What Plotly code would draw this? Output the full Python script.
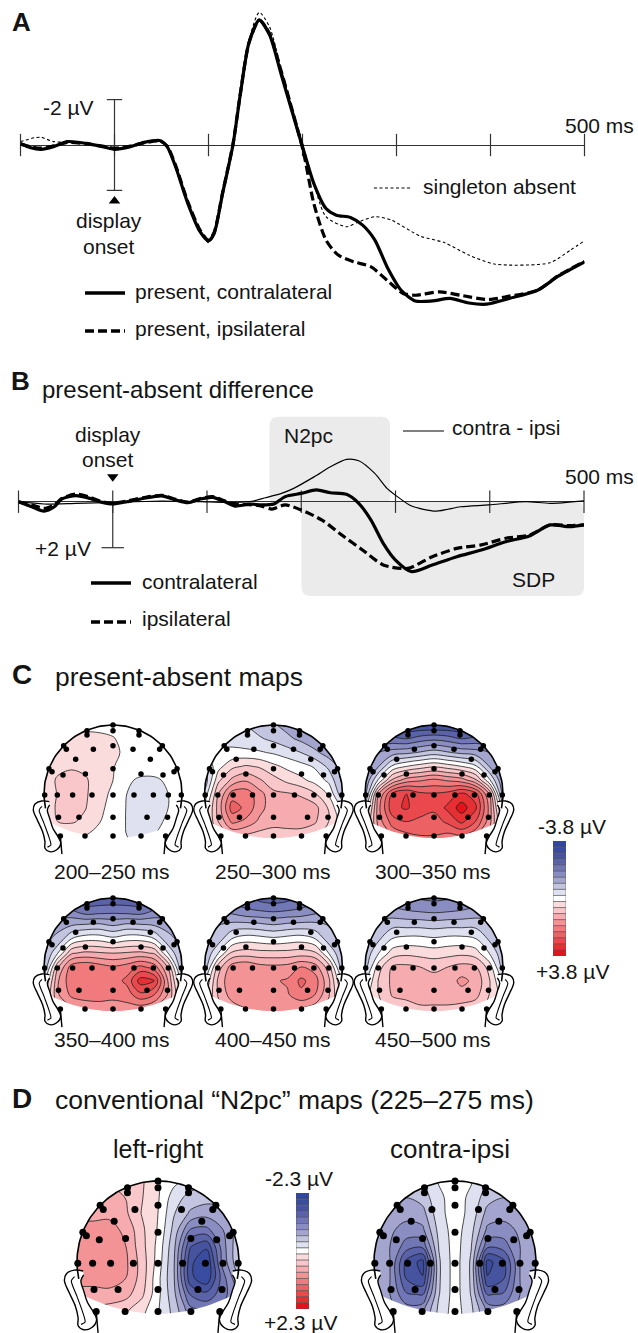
import numpy as np
import plotly.graph_objects as go

W, H = 638, 1333
FONT = "Liberation Sans"
INK = "#141414"

# ---------- Panel A (ms, microvolts, negative up)
A_MS_CONTRA = [-100,-89,-78,-65,-50,-30,-13,0,17,30,48,56,65,78,91,100,106,115,126,134,143,154,165,177,190,201,212,225,236,251,264,277,290,305,320,338,357,377,396,420,450,472,500]
A_CONTRA = [-.07,.12,.19,.07,-.15,-.07,.07,.19,.07,-.1,-.2,.07,.96,2.57,3.82,4.22,3.9,2.13,0,-2.28,-4.49,-5.5,-4.85,-3.16,-1.32,.22,1.69,2.8,3.09,3.19,3.53,4.19,5.37,6.4,6.87,6.87,6.76,6.96,7.01,6.76,6.4,5.78,5.15]
A_MS_IPSI = [-100,-89,-78,-65,-50,-30,-13,0,17,30,48,56,65,78,91,100,106,115,126,134,143,154,165,177,190,201,212,225,238,255,273,290,307,320,346,368,398,420,450,472,500]
A_IPSI = [-.04,.08,.14,.04,-.12,-.05,.05,.14,.05,-.08,-.18,.05,.9,2.5,3.75,4.2,3.85,2.1,-.03,-2.3,-4.5,-5.5,-4.9,-3.3,-1.4,.3,2.57,4.19,4.85,5.15,5.37,5.96,6.54,6.62,6.47,6.62,6.81,6.66,6.4,5.76,5.13]
A_MS_ABSENT = [-100,-85,-78,-65,-50,-30,-13,0,17,30,48,56,65,78,91,100,106,115,126,134,143,154,165,177,190,201,212,225,247,260,277,294,325,351,377,405,463,485,500]
A_ABSENT = [-.15,-.32,-.34,-.15,-.12,-.05,.07,.15,.05,-.08,-.15,.1,1.0,2.6,3.85,4.3,3.95,2.15,.03,-2.25,-4.6,-5.84,-5.2,-3.4,-1.5,.07,1.69,3.16,3.6,3.38,3.16,3.3,4.01,4.3,4.85,5.25,5.19,4.63,4.22]

# ---------- Panel B
B_MS_CONTRA = [-100,-86,-73,-62,-54,-39,-24,-11,0,15,32,52,67,80,93,106,119,130,145,158,171,183,200,216,231,248,261,274,287,300,317,339,365,391,417,442,464,485,500]
B_CONTRA = [0,.22,.41,.22,-.12,-.26,-.14,.03,.10,0,-.14,-.25,-.07,.04,-.12,-.19,0,.19,.10,.14,.10,-.22,-.36,-.51,-.39,-.32,.07,.80,1.81,2.54,3.04,2.75,2.39,2.10,1.74,1.49,1.01,1.09,1.01]
B_MS_IPSI = [-100,-86,-73,-62,-54,-39,-24,-11,0,15,32,52,67,80,93,106,119,130,145,158,169,183,200,222,243,265,287,313,339,365,391,417,442,464,485,500]
B_IPSI = [0,.14,.29,.14,-.14,-.33,-.19,0,.07,-.03,-.17,-.28,-.1,.02,-.14,-.22,-.03,.12,.13,.19,.32,.14,.36,.80,1.45,2.10,2.75,2.90,2.39,2.03,1.88,1.59,1.45,1.01,1.04,1.01]
B_MS_DIFF = [-100,-73,-39,0,52,93,119,145,162,179,192,214,231,248,261,278,291,302,317,343,369,399,438,464,500]
B_DIFF = [0,.1,.07,.03,-.03,0,.03,0,-.17,-.36,-.58,-1.09,-1.52,-1.84,-1.78,-1.23,-.58,-.22,.19,.41,.22,.14,0,.07,-.04]

TIME_TICKS = [-100,0,100,200,300,400,500]

# ---------- Topographic maps: grid of values (rows top to bottom)
GRID_X = [-1,-.8,-.6,-.4,-.2,0,.2,.4,.6,.8,1]
GRID_Y = [1,.8,.6,.4,.2,0,-.2,-.4,-.6,-.8]

MAP_200 = [[0,0,0,.1,.1,.1,0,0,0,0,0],
 [.3,.3,.3,.3,.28,.22,.1,.05,0,0,0],
 [.35,.35,.35,.35,.35,.3,.1,0,0,0,0],
 [.4,.5,.55,.5,.4,.22,.05,-.05,-.05,-.05,0],
 [.4,.65,.75,.65,.4,.2,-.15,-.25,-.25,-.15,-.05],
 [.4,.62,.85,.65,.38,.1,-.2,-.3,-.3,-.2,-.1],
 [.4,.65,.8,.62,.3,.05,-.22,-.32,-.3,-.2,-.1],
 [.3,.6,.65,.5,.22,0,-.22,-.3,-.28,-.15,-.05],
 [.1,.2,.22,.2,.1,-.05,-.2,-.25,-.2,-.1,0],
 [0,.1,.1,.1,.05,-.05,-.15,-.2,-.15,-.05,0]]
MAP_250 = [[-.4,-.4,-.5,-.6,-.8,-.95,-1.15,-1.3,-1.4,-1.5,-1.5],
 [-.3,-.3,-.35,-.45,-.55,-.7,-.9,-1.1,-1.3,-1.4,-1.4],
 [-.2,-.15,-.1,-.1,-.15,-.25,-.4,-.6,-.9,-1.2,-1.3],
 [-.6,.05,.5,.65,.55,.3,.1,-.05,-.25,-.7,-1.2],
 [-.9,.5,1.1,1.35,1.05,.75,.5,.3,.05,-.3,-1.1],
 [-.5,1.0,2.0,2.05,1.55,1.1,1.05,.95,.65,.15,-.9],
 [-.1,1.15,2.4,2.1,1.55,1.15,1.2,1.2,1.15,.55,-.3],
 [0,1.0,1.9,1.7,1.3,1.15,1.2,1.2,1.05,.6,0],
 [0,.7,1.0,.95,.85,.8,.8,.8,.7,.4,0],
 [0,.6,.8,.8,.75,.7,.7,.65,.55,.3,0]]
MAP_300 = [[-2.8,-2.8,-2.9,-3,-3,-3,-3,-3,-2.9,-2.8,-2.8],
 [-2,-2.1,-2.1,-2.2,-2.0,-1.9,-2.0,-2.2,-2.1,-2.1,-2],
 [-1.5,-1.4,-1.2,-1.1,-.95,-.8,-.95,-1.1,-1.2,-1.4,-1.5],
 [-1.4,-1.0,-.1,.2,.4,.55,.4,.2,-.1,-1.0,-1.4],
 [-1.4,-.1,1.1,1.6,1.75,1.9,1.75,1.6,1.1,-.1,-1.4],
 [-1.2,1.4,2.7,3.0,2.7,2.65,2.75,3.1,2.8,1.4,-1.2],
 [-.5,1.7,2.9,3.05,2.8,2.7,3.1,3.6,3.1,1.7,-.5],
 [0,1.6,2.4,2.6,2.5,2.4,2.7,3.1,2.6,1.6,0],
 [0,1.3,1.9,2.1,2.2,2.2,2.1,2.2,1.9,1.3,0],
 [0,1.2,1.8,2.0,2.1,2.0,2.0,2.0,1.8,1.2,0]]
MAP_350 = [[-2.2,-2.3,-2.4,-2.5,-2.5,-2.5,-2.5,-2.5,-2.4,-2.3,-2.2],
 [-1.6,-1.65,-1.7,-2,-1.95,-1.9,-1.95,-2,-1.7,-1.65,-1.6],
 [-1.2,-1.1,-1.0,-.9,-.85,-1.0,-.85,-.9,-1.0,-1.1,-1.2],
 [-1.1,-.9,-.15,.1,.1,-.05,.1,.1,-.15,-.9,-1.1],
 [-1.1,-.2,.95,1.1,1.05,1.0,1.05,1.1,.95,-.2,-1.1],
 [-1,.95,2.0,2.15,2.0,1.85,2.0,2.3,2.0,.95,-1],
 [-.4,1.35,2.1,2.1,2.05,2.0,2.3,3.2,3.0,1.35,-.4],
 [0,1.35,1.9,1.95,1.95,1.9,2.0,2.5,2.2,1.35,0],
 [0,1.1,1.4,1.6,1.65,1.65,1.65,1.6,1.4,1.1,0],
 [0,1.0,1.3,1.5,1.55,1.55,1.55,1.5,1.3,1.0,0]]
MAP_400 = [[-1.8,-1.9,-2,-2.1,-2.35,-2.45,-2.35,-2.1,-2,-1.9,-1.8],
 [-1.3,-1.4,-1.5,-1.7,-1.75,-1.8,-1.75,-1.7,-1.5,-1.4,-1.3],
 [-1.1,-1.0,-.85,-.8,-.85,-.95,-.85,-.8,-.85,-1.0,-1.1],
 [-1.0,-.8,-.15,.05,0,-.08,0,.05,-.15,-.8,-1.0],
 [-1,-.2,.7,.8,.75,.75,.75,.8,.7,-.2,-1],
 [-.9,.8,1.6,1.75,1.55,1.5,1.55,1.8,1.6,.8,-.9],
 [-.3,1.1,1.75,1.8,1.75,1.75,1.85,2.3,2.0,1.1,-.3],
 [0,1.05,1.6,1.75,1.75,1.75,1.75,2.1,1.8,1.05,0],
 [0,.85,1.2,1.4,1.45,1.45,1.45,1.4,1.2,.85,0],
 [0,.75,1.1,1.3,1.35,1.35,1.35,1.3,1.1,.75,0]]
MAP_450 = [[-1.5,-1.6,-1.7,-1.8,-1.85,-1.9,-1.85,-1.8,-1.7,-1.6,-1.5],
 [-1.1,-1.2,-1.25,-1.35,-1.4,-1.45,-1.4,-1.35,-1.25,-1.2,-1.1],
 [-.9,-.8,-.7,-.7,-.7,-.75,-.7,-.7,-.7,-.8,-.9],
 [-.9,-.65,-.15,-.05,-.05,-.12,-.05,-.05,-.15,-.65,-.9],
 [-.9,-.2,.4,.5,.45,.4,.45,.5,.4,-.2,-.9],
 [-.8,.45,1.05,1.1,1.0,.9,1.0,1.15,1.05,.45,-.8],
 [-.3,.65,1.1,1.15,1.15,1.15,1.2,1.5,1.3,.65,-.3],
 [0,.6,1.05,1.1,1.15,1.15,1.15,1.25,1.15,.6,0],
 [0,.5,.75,.85,.95,.95,.95,.85,.75,.5,0],
 [0,.45,.65,.75,.85,.85,.85,.75,.65,.45,0]]
MAP_LR = [[.45,.5,.55,.55,.4,.15,-.05,-.2,-.3,-.3,-.3],
 [.7,.7,.7,.6,.38,.15,-.25,-.45,-.5,-.55,-.55],
 [.8,.8,.8,.65,.35,.12,-.35,-.65,-.75,-.65,-.6],
 [.9,.9,.92,.8,.42,.1,-.45,-1.1,-1.15,-.85,-.5],
 [.95,1.0,1.0,.85,.45,.05,-.55,-1.55,-1.75,-.95,-.4],
 [.95,1.0,1.05,.9,.5,.02,-.6,-1.75,-2.05,-1.0,-.4],
 [.9,.95,1.0,.85,.5,-.05,-.6,-1.75,-2.0,-1.2,-.6],
 [.8,.75,.75,.7,.42,-.05,-.55,-1.35,-1.5,-1.2,-.8],
 [.6,.55,.5,.4,.2,-.1,-.45,-1,-1.1,-1,-.7],
 [.5,.45,.4,.3,.1,-.1,-.4,-.9,-1,-.9,-.7]]
MAP_CI = [[-.4,-.4,-.45,-.35,-.1,0,-.1,-.35,-.45,-.4,-.4],
 [-.5,-.55,-.6,-.5,-.18,0,-.18,-.5,-.6,-.55,-.5],
 [-.6,-.7,-.75,-.7,-.2,0,-.2,-.7,-.75,-.7,-.6],
 [-.7,-.8,-.95,-.9,-.28,0,-.28,-.9,-.95,-.8,-.7],
 [-.7,-.85,-1.2,-1.25,-.35,0,-.35,-1.25,-1.2,-.85,-.7],
 [-.6,-.85,-1.65,-1.9,-.4,0,-.4,-1.9,-1.65,-.85,-.6],
 [-.6,-.85,-1.6,-1.8,-.4,0,-.4,-1.8,-1.6,-.85,-.6],
 [-.7,-.85,-1.3,-1.35,-.38,0,-.38,-1.35,-1.3,-.85,-.7],
 [-.7,-.8,-.95,-.9,-.3,0,-.3,-.9,-.95,-.8,-.7],
 [-.7,-.8,-.9,-.85,-.25,0,-.25,-.85,-.9,-.8,-.7]]

MAP_LABELS = ["200–250 ms","250–300 ms","300–350 ms","350–400 ms","400–450 ms","450–500 ms"]

# electrode layout, in head radii
EL_X = [0,0,-.377,-.377,.377,.377,-.715,-.676,-.285,0,.29,.676,.715,-.541,.541,-.928,-.884,-.725,-.4,0,.406,.725,.884,.928,-.99,-.807,-.585,-.304,0,.304,.585,.802,.99,-.79,-.493,0,.493,.79,-.763,-.406,0,.406,.763]
EL_Y = [1.0,.918,.918,.855,.918,.855,.70,.647,.647,.70,.647,.647,.70,.502,.502,.367,.324,.275,.29,.367,.29,.275,.324,.367,-.014,-.014,-.014,-.014,-.014,-.014,-.014,-.014,-.014,-.338,-.338,-.338,-.338,-.338,-.61,-.61,-.61,-.61,-.61]

# ear outline, in head radii
EAR_X = [-.923,-1.034,-1.13,-1.155,-1.097,-1.02,-.986,-.986,-.918,-.821,-.758,-.797,-.87,-.918,-.952,-.918]
EAR_Y = [-.111,-.101,-.145,-.232,-.377,-.546,-.691,-.787,-.836,-.812,-.715,-.618,-.5,-.353,-.232,-.159]
EAR_IN_X = [-1.03,-1.07,-1.0,-.93,-.9,-.95]
EAR_IN_Y = [-.18,-.232,-.425,-.618,-.74,-.77]

SCALE_COLORS = ["#30479d","#3a4c9f","#46539f","#5a62aa","#7176b5","#8a8dc1","#a3a5cf","#c3c4e0","#e0e1f0","#ffffff","#fbdcdd","#f9c6c9","#f6acaf","#f39396","#f07a7c","#ec6164","#e9494c","#e62f33","#e3131b"]
COLORSCALE = [[i/18, c] for i, c in enumerate(SCALE_COLORS)]

# ---------- helpers
fig = go.Figure()
layout = dict(width=W, height=H, margin=dict(l=0, r=0, t=0, b=0), autosize=False,
              paper_bgcolor="white", plot_bgcolor="rgba(0,0,0,0)", showlegend=False,
              barmode="overlay", font=dict(family=FONT, color=INK))
axis_n = [0]

def new_axes(px0, px1, py0, py1, xr, yr, zeroline=False):
    axis_n[0] += 1
    n = axis_n[0]
    base = dict(showgrid=False, showticklabels=False, ticks="", showline=False, zeroline=False, fixedrange=True)
    layout[f"xaxis{n}"] = dict(base, domain=[px0/W, px1/W], range=xr, anchor=f"y{n}")
    ya = dict(base, domain=[1-py1/H, 1-py0/H], range=yr, anchor=f"x{n}")
    if zeroline:
        ya.update(zeroline=True, zerolinecolor="#333333", zerolinewidth=1.2)
    layout[f"yaxis{n}"] = ya
    return f"x{n}", f"y{n}"

def line(xa, ya, x, y, width, color="#000000", dash=None, spline=True, **kw):
    fig.add_trace(go.Scatter(x=x, y=y, xaxis=xa, yaxis=ya, mode="lines", hoverinfo="skip", cliponaxis=False,
        line=dict(width=width, color=color, dash=dash, shape="spline" if spline else "linear", smoothing=.7), **kw))

annots = []
def text(s, x, y, size=21, anchor="center", bold=False, color=INK):
    annots.append(dict(text=f"<b>{s}</b>" if bold else s, x=x/W, y=1-y/H, xref="paper", yref="paper", showarrow=False,
                       xanchor=anchor, yanchor="middle", font=dict(size=size, family=FONT, color=color)))

def wave_axes(x0, x1, base_y, px_per_uv, top, bottom):
    return new_axes(x0, x1, top, bottom, [-100, 500], [(bottom-base_y)/px_per_uv, (top-base_y)/px_per_uv], zeroline=True)

def ticks(xa, ya):
    fig.add_trace(go.Scatter(x=TIME_TICKS, y=[0]*7, xaxis=xa, yaxis=ya, mode="markers", hoverinfo="skip", cliponaxis=False,
        marker=dict(symbol="line-ns", size=16, line=dict(width=1.2, color="#333333"), color="#333333")))

def marker(xa, ya, x, y, symbol, size, lw=1.2, color="#333333"):
    fig.add_trace(go.Scatter(x=x, y=y, xaxis=xa, yaxis=ya, mode="markers", hoverinfo="skip", cliponaxis=False,
        marker=dict(symbol=symbol, size=size, color=color, line=dict(width=lw, color=color))))

def rounded(x0, x1, y0, y1, r):
    X = lambda v: f"{v/W:.5f}"
    Y = lambda v: f"{1-v/H:.5f}"
    return (f"M{X(x0+r)},{Y(y0)} L{X(x1-r)},{Y(y0)} Q{X(x1)},{Y(y0)} {X(x1)},{Y(y0+r)} L{X(x1)},{Y(y1-r)} "
            f"Q{X(x1)},{Y(y1)} {X(x1-r)},{Y(y1)} L{X(x0+r)},{Y(y1)} Q{X(x0)},{Y(y1)} {X(x0)},{Y(y1-r)} "
            f"L{X(x0)},{Y(y0+r)} Q{X(x0)},{Y(y0)} {X(x0+r)},{Y(y0)} Z")

GRAY = "#ebebeb"
layout["shapes"] = [
    dict(type="path", path=rounded(269.5, 390, 416.7, 507, 9), xref="paper", yref="paper", fillcolor=GRAY, line=dict(width=0), layer="below"),
    dict(type="path", path=rounded(301.5, 584, 501.7, 596, 9), xref="paper", yref="paper", fillcolor=GRAY, line=dict(width=0), layer="below"),
]

# ---------- Panel A
xa, ya = wave_axes(20.5, 584.5, 145, 22.7, 0, 345)
ticks(xa, ya)
line(xa, ya, [0, 0], [-2, 2], 1.2, "#333333", spline=False)
marker(xa, ya, [0, 0], [-2, 2], "line-ew", 11)
marker(xa, ya, [0], [2.47], "triangle-up", 10, 0, "#000000")
line(xa, ya, A_MS_ABSENT, A_ABSENT, 1.1, dash="3px,2.5px")
line(xa, ya, A_MS_IPSI, A_IPSI, 3.2, dash="9px,4px")
line(xa, ya, A_MS_CONTRA, A_CONTRA, 3.2)

# ---------- Panel B
xb, yb = wave_axes(18.5, 584, 501.7, 23, 420, 600)
ticks(xb, yb)
line(xb, yb, [0, 0], [0, 2], 1.2, "#333333", spline=False)
marker(xb, yb, [0], [2], "line-ew", 16)
marker(xb, yb, [0], [-1.09], "triangle-down", 10, 0, "#000000")
line(xb, yb, B_MS_DIFF, B_DIFF, 1.2)
line(xb, yb, B_MS_IPSI, B_IPSI, 3.2, dash="9px,4px")
line(xb, yb, B_MS_CONTRA, B_CONTRA, 3.2)

# ---------- legend keys on a page-wide pixel axis
xo, yo = new_axes(0, W, 0, H, [0, W], [H, 0])
line(xo, yo, [374, 411], [188, 188], 1.1, dash="3px,2.5px", spline=False)
line(xo, yo, [85, 125], [293, 293], 3.4, spline=False)
line(xo, yo, [85, 125], [331, 331], 3.4, dash="9px,4px", spline=False)
line(xo, yo, [403, 444], [431, 431], 1.2, spline=False)
line(xo, yo, [91, 131], [583, 583], 3.4, spline=False)
line(xo, yo, [91, 131], [622, 622], 3.4, dash="9px,4px", spline=False)

# ---------- heads
theta = np.radians(np.linspace(192, -12, 90))
OUT_X = np.cos(theta); OUT_Y = np.sin(theta)

def head_boundary():
    t = np.radians(np.linspace(180, -25, 70))
    bx = np.linspace(.9, -.9, 30)
    t3 = np.radians(np.linspace(205, 180, 8))
    return (np.r_[np.cos(t), bx, np.cos(t3)],
            np.r_[np.sin(t), -.64+.22*(bx/.9)**2, np.sin(t3)])

def head(cx, cy, R, z, scale_max, dot):
    step = 2*scale_max/19
    xa, ya = new_axes(cx-1.3*R, cx+1.3*R, cy-1.1*R, cy+.875*R, [-1.3, 1.3], [-.875, 1.1])
    fig.add_trace(go.Contour(x=GRID_X, y=GRID_Y, z=z, xaxis=xa, yaxis=ya, colorscale=COLORSCALE, showscale=False, hoverinfo="skip",
        autocontour=False, contours=dict(start=-8.5*step, end=8.5*step, size=step, coloring="fill", showlines=True),
        line=dict(color="#1e1e1e", width=.8, smoothing=1.0)))
    ix, iy = head_boundary()
    # white mask: outer rectangle wound against the head boundary leaves a hole
    fig.add_trace(go.Scatter(x=np.r_[-1.03, -1.03, 1.03, 1.03, -1.03, -1.03, ix, -1.03],
                             y=np.r_[0, -.85, -.85, 1.03, 1.03, 0, iy, 0],
                             xaxis=xa, yaxis=ya, mode="lines", hoverinfo="skip", fill="toself", fillcolor="white",
                             line=dict(width=0, color="white")))
    for sgn in (-1, 1):
        fig.add_trace(go.Scatter(x=[sgn*v for v in EAR_X], y=EAR_Y, xaxis=xa, yaxis=ya, mode="lines", hoverinfo="skip", fill="toself",
            fillcolor="white", cliponaxis=False, line=dict(width=1.4, color="#000000", shape="spline", smoothing=1)))
        line(xa, ya, [sgn*v for v in EAR_IN_X], EAR_IN_Y, 1.1)
        line(xa, ya, [sgn*.763, sgn*.74], [-.61, -.875], 1.4, spline=False)
    line(xa, ya, OUT_X, OUT_Y, 1.6, spline=False)
    fig.add_trace(go.Scatter(x=EL_X, y=EL_Y, xaxis=xa, yaxis=ya, mode="markers", hoverinfo="skip", cliponaxis=False,
        marker=dict(size=dot, color="#000000")))

def colorbar(x0, x1, y0, y1, vmax):
    step = 2*vmax/19
    xa, ya = new_axes(x0, x1, y0, y1, [-.5, .5], [vmax, -vmax])
    levels = [-vmax + i*step for i in range(19)]
    fig.add_trace(go.Bar(x=[0]*19, y=[step]*19, base=levels, width=1, xaxis=xa, yaxis=ya, hoverinfo="skip",
        marker=dict(color=SCALE_COLORS, line=dict(color="#555555", width=.6))))

CX = [113, 273.5, 434]
for i, m in enumerate([MAP_200, MAP_250, MAP_300]):
    head(CX[i], 794, 69, m, 3.8, 5.5)
    text(MAP_LABELS[i], CX[i]-1, 871)
for i, m in enumerate([MAP_350, MAP_400, MAP_450]):
    head(CX[i], 967, 69, m, 3.8, 5.5)
    text(MAP_LABELS[i+3], CX[i]-1, 1039)
colorbar(553, 566, 841, 956, 3.8)
head(158, 1262, 81, MAP_LR, 2.3, 7)
head(455, 1262, 81, MAP_CI, 2.3, 7)
colorbar(296, 309, 1193, 1309, 2.3)

# ---------- text
text("A", 10, 22, 26, "left", True)
text("-2 µV", 41, 107, 21, "left")
text("500 ms", 563, 125, 21, "left")
text("display", 109, 220)
text("onset", 109, 246)
text("singleton absent", 421, 186, 21, "left")
text("present, contralateral", 133, 292, 21, "left")
text("present, ipsilateral", 133, 329, 21, "left")
text("B", 9, 381, 26, "left", True)
text("present-absent difference", 40, 390, 24, "left")
text("display", 108, 434)
text("onset", 108, 459)
text("N2pc", 282, 435, 21, "left")
text("contra - ipsi", 450, 428, 21, "left")
text("500 ms", 563, 476, 21, "left")
text("+2 µV", 33, 548, 21, "left")
text("contralateral", 140, 582, 21, "left")
text("ipsilateral", 140, 619, 21, "left")
text("SDP", 510, 580, 21, "left")
text("C", 10, 675, 28, "left", True)
text("present-absent maps", 53, 677, 26.4, "left")
text("-3.8 µV", 572, 827, 21)
text("+3.8 µV", 572, 971, 21)
text("D", 10, 1098, 28, "left", True)
text("conventional “N2pc” maps (225–275 ms)", 53, 1100, 26.5, "left")
text("left-right", 158, 1149, 25)
text("contra-ipsi", 450, 1149, 26)
text("-2.3 µV", 299, 1178, 21)
text("+2.3 µV", 300, 1322, 21)

layout["annotations"] = annots
fig.update_layout(**layout)
fig.write_html("out.html", config=dict(displayModeBar=False), post_script="document.body.style.margin='0';")
